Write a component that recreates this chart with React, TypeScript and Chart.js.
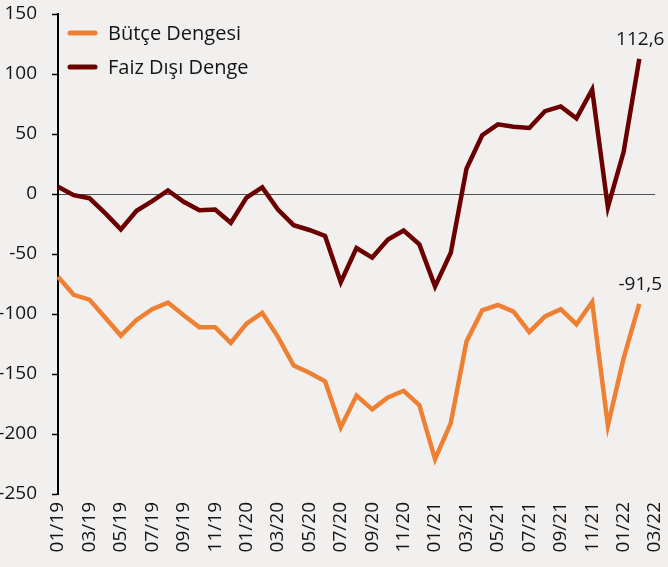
import React, { useEffect, useRef } from "react";
import { Chart, registerables } from "chart.js";

Chart.register(...registerables);

const months: string[] = [
  "01/19", "02/19", "03/19", "04/19", "05/19", "06/19", "07/19", "08/19", "09/19", "10/19", "11/19", "12/19",
  "01/20", "02/20", "03/20", "04/20", "05/20", "06/20", "07/20", "08/20", "09/20", "10/20", "11/20", "12/20",
  "01/21", "02/21", "03/21", "04/21", "05/21", "06/21", "07/21", "08/21", "09/21", "10/21", "11/21", "12/21",
  "01/22", "02/22", "03/22",
];

const butceDengesi: number[] = [
  -69, -84, -88, -103, -118, -105, -96, -90.5, -101, -111, -111, -124,
  -108, -99, -119, -143, -149, -156, -194.5, -168, -179.5, -169.5, -164, -176,
  -221, -191, -123, -97, -92.5, -98, -115, -102, -96, -108.5, -90, -193,
  -137, -91.5,
];

const faizDisiDenge: number[] = [
  6, -1, -3.5, -16, -29.5, -14, -6, 3, -6.5, -13.5, -13, -24,
  -3, 5.5, -13, -26, -30, -35, -73.5, -45, -53, -38, -30.5, -42,
  -77, -49, 21, 49, 58, 56, 55, 69, 73, 63, 87, -11,
  35, 112.6,
];

const seriesNames: string[] = ["Bütçe Dengesi", "Faiz Dışı Denge"];
const seriesColors: string[] = ["#EE8034", "#6B0000"];

const yTicks = { min: -250, max: 150, step: 50 };

const FONT = "'Open Sans', 'DejaVu Sans', sans-serif";
const TEXT = "#141414";

const legendPlugin = {
  id: "customLegend",
  afterDraw(chart: any) {
    const ctx = chart.ctx;
    ctx.save();
    const rows = [33, 67];
    chart.data.datasets.forEach((ds: any, i: number) => {
      const y = rows[i];
      ctx.strokeStyle = ds.borderColor;
      ctx.lineWidth = 5;
      ctx.lineCap = "round";
      ctx.beginPath();
      ctx.moveTo(70, y);
      ctx.lineTo(95, y);
      ctx.stroke();
      ctx.fillStyle = TEXT;
      ctx.font = `20px ${FONT}`;
      ctx.textBaseline = "middle";
      ctx.textAlign = "left";
      ctx.fillText(ds.label, 108, y + 1);
    });
    ctx.restore();
  },
};

const lastLabelPlugin = {
  id: "lastLabels",
  afterDatasetsDraw(chart: any) {
    const ctx = chart.ctx;
    ctx.save();
    ctx.fillStyle = TEXT;
    ctx.font = `19px ${FONT}`;
    ctx.textAlign = "center";
    ctx.textBaseline = "bottom";
    chart.data.datasets.forEach((ds: any, i: number) => {
      const meta = chart.getDatasetMeta(i);
      const idx = ds.data.length - 1;
      const pt = meta.data[idx];
      if (!pt) return;
      const txt = String(ds.data[idx]).replace(".", ",");
      ctx.fillText(txt, pt.x + 1, pt.y - 10);
    });
    ctx.restore();
  },
};

export default function App() {
  const ref = useRef<HTMLCanvasElement | null>(null);

  useEffect(() => {
    if (!ref.current) return;
    const chart = new Chart(ref.current, {
      type: "line",
      data: {
        labels: months,
        datasets: [
          {
            label: seriesNames[0],
            data: butceDengesi,
            borderColor: seriesColors[0],
            backgroundColor: seriesColors[0],
            borderWidth: 4.5,
            pointRadius: 0,
            tension: 0,
            fill: false,
          },
          {
            label: seriesNames[1],
            data: faizDisiDenge,
            borderColor: seriesColors[1],
            backgroundColor: seriesColors[1],
            borderWidth: 4.5,
            pointRadius: 0,
            tension: 0,
            fill: false,
          },
        ],
      },
      options: {
        responsive: false,
        animation: false,
        layout: { padding: { top: 14, right: 13, left: 0, bottom: 0 } },
        plugins: {
          legend: { display: false },
          tooltip: { enabled: false },
        },
        scales: {
          x: {
            offset: false,
            grid: { display: false, drawTicks: false },
            border: { display: false },
            ticks: {
              autoSkip: false,
              minRotation: 90,
              maxRotation: 90,
              padding: 8,
              color: TEXT,
              font: { family: FONT, size: 19 },
              callback: (_v: any, i: number) => (i % 2 === 0 ? months[i] : ""),
            },
            afterFit: (s: any) => {
              s.height = 73;
              s.paddingLeft = 0;
              s.paddingRight = 0;
            },
          },
          y: {
            min: yTicks.min,
            max: yTicks.max,
            ticks: {
              stepSize: yTicks.step,
              padding: 15,
              color: TEXT,
              font: { family: FONT, size: 19 },
            },
            grid: {
              color: (c: any) => (c.tick && c.tick.value === 0 ? "#505050" : "rgba(0,0,0,0)"),
              lineWidth: 1,
              tickColor: "#000",
              tickLength: 6,
              tickWidth: 1.5,
            },
            border: { color: "#000", width: 2 },
            afterFit: (s: any) => {
              s.width = 58;
              s.paddingTop = 0;
              s.paddingBottom = 0;
            },
          },
        },
      },
      plugins: [legendPlugin, lastLabelPlugin],
    });
    return () => chart.destroy();
  }, []);

  return (
    <div style={{ position: "fixed", left: 0, top: 0, width: 668, height: 567, background: "#F2F0EF" }}>
      <canvas ref={ref} width={668} height={567} style={{ display: "block" }} />
    </div>
  );
}
